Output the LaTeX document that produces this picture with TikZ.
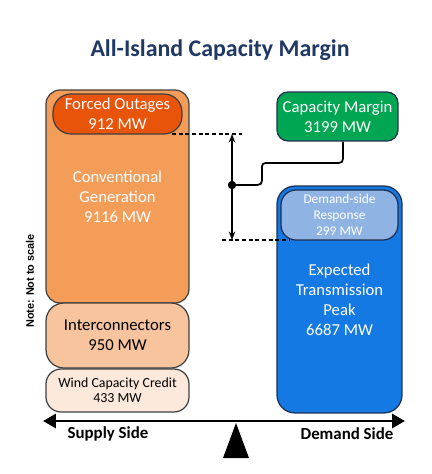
\documentclass[tikz,border=0pt]{standalone}
\usepackage{fontspec}
\setmainfont{Carlito}
\newfontfamily\notefont{Liberation Sans}
\usepackage{tikz}
\usetikzlibrary{positioning, arrows.meta}

\definecolor{titleblue}{HTML}{1F3864}
\definecolor{convorange}{HTML}{F49D59}
\definecolor{forcedred}{HTML}{E9540B}
\definecolor{interpeach}{HTML}{F7C49E}
\definecolor{windpeach}{HTML}{FCE9DB}
\definecolor{margingreen}{HTML}{00A651}
\definecolor{peakblue}{HTML}{1479E2}
\definecolor{dsrblue}{HTML}{8FB4E3}
\definecolor{edgegray}{HTML}{404040}
\definecolor{edgenavy}{HTML}{1F2F4F}

\begin{document}
\begin{tikzpicture}[x=0.02cm,y=-0.02cm,
        box/.style={draw=edgegray,line width=0.7pt,align=center,inner sep=0pt},
        bigtext/.style={font=\fontsize{9.5}{11.3}\selectfont},
        smalltext/.style={font=\fontsize{7.9}{8.6}\selectfont},
        dots/.style={dash pattern=on 2.2pt off 1.6pt,line width=0.8pt}]
        \useasboundingbox (0,0) rectangle (432,474);

        \node[text=titleblue,font=\fontsize{13.6}{16}\selectfont\bfseries] (title) at (220,50) {All-Island Capacity Margin};

        % supply side
        \node[box,fill=convorange,text=white,bigtext,rounded corners=0.28cm,
              minimum width=2.86cm,minimum height=4.26cm] (conv) at (117.5,196.5) {Conventional\\Generation\\9116 MW};
        \node[box,fill=forcedred,text=white,bigtext,rounded corners=0.36cm,
              minimum width=2.58cm,minimum height=0.8cm] (forced) at (117.5,114) {Forced Outages\\912 MW};
        \node[box,fill=interpeach,bigtext,rounded corners=0.36cm,
              minimum width=2.86cm,minimum height=1.3cm] (inter) at (117.5,335.5) {Interconnectors\\950 MW};
        \node[box,fill=windpeach,smalltext,rounded corners=0.3cm,
              minimum width=2.86cm,minimum height=0.86cm] (wind) at (117.5,390.5) {Wind Capacity Credit\\433 MW};

        % demand side
        \node[box,draw=edgenavy,fill=margingreen,text=white,bigtext,rounded corners=0.22cm,
              minimum width=2.42cm,minimum height=0.98cm] (margin) at (337.5,116.5) {Capacity Margin\\3199 MW};
        \node[box,draw=edgenavy,fill=peakblue,text=white,bigtext,rounded corners=0.36cm,
              minimum width=2.5cm,minimum height=4.54cm] (peak) at (339.5,299.5) {Expected\\Transmission\\Peak\\6687 MW};
        \node[box,draw=edgenavy,fill=dsrblue,text=white,font=\fontsize{7.6}{9}\selectfont,rounded corners=0.3cm,
              minimum width=2.34cm,minimum height=1cm] (dsr) at (339.5,215) {Demand-side\\Response\\299 MW};

        \node[rotate=90,font=\fontsize{6.2}{7}\notefont\bfseries] (note) at (30,281) {Note: Not to scale};

        % balance
        \coordinate (axL) at (43,421);
        \coordinate (axR) at (405,421);
        \draw[line width=1.7pt,{Triangle[length=0.26cm,width=0.28cm]}-{Triangle[length=0.26cm,width=0.28cm]}] (axL) -- (axR);
        \coordinate (tipT) at (236,423);
        \fill (tipT) -- (249,458) -- (223,458) -- cycle;
        \node[font=\fontsize{9.6}{11}\selectfont\bfseries] (supply) at (108,434) {Supply Side};
        \node[font=\fontsize{9.6}{11}\selectfont\bfseries] (demand) at (347,434) {Demand Side};

        % margin span
        \coordinate (topA) at (232,134);
        \coordinate (botA) at (232,240);
        \coordinate (joint) at (232,185);
        \draw[dots] (172,134) -- (242,134);
        \draw[dots] (222,240) -- (290,240);
        \draw[line width=0.8pt,{Stealth[length=0.17cm,width=0.13cm]}-{Stealth[length=0.17cm,width=0.13cm]}] (topA) -- (botA);
        \fill (joint) circle (4.2);
        \draw[line width=1pt] (joint) -- (252,185) .. controls (262,185) .. (262,176)
              -- (262,170) .. controls (262,163) .. (270,163) -- (334,163)
              .. controls (343,163) .. (343,154) -- (margin.south -| 343,0);
\end{tikzpicture}
\end{document}
